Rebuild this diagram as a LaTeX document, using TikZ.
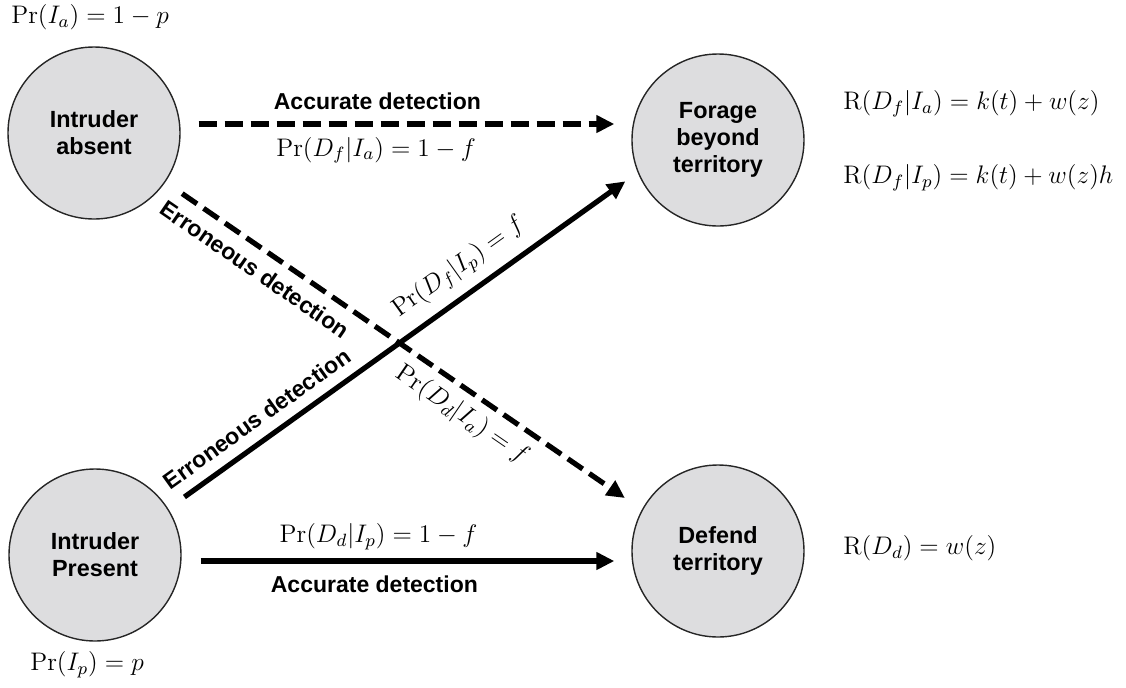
\RequirePackage{fix-cm}
\documentclass[tikz,border=0pt]{standalone}
\usepackage{fontspec}
\newfontfamily\labelfont{Liberation Sans}
\usetikzlibrary{arrows.meta,calc}
\definecolor{circfill}{RGB}{221,221,223}

\begin{document}
\begin{tikzpicture}[x=0.5pt,y=-0.5pt,
  state/.style={circle, draw=black!85, line width=0.7pt, fill=circfill,
    minimum size=86pt, inner sep=0pt, align=center,
    font=\fontsize{11.7}{13.5}\selectfont\labelfont\bfseries},
  flow/.style={line width=2.6pt, -{Triangle[length=9pt,width=8.5pt]}},
  dashflow/.style={flow, dash pattern=on 9pt off 4pt},
  kind/.style={inner sep=0pt, font=\fontsize{11.5}{13.5}\selectfont\labelfont\bfseries},
  prob/.style={inner sep=0pt, font=\fontsize{12.7}{15}\selectfont}
]
\useasboundingbox (0,0) rectangle (1126,687);

% states and outcomes
\node[state] (ia) at (94,133) {Intruder\\absent};
\node[state] (ip) at (95,555) {Intruder\\Present};
\node[state] (fo) at (718,140) {Forage\\beyond\\territory};
\node[state] (de) at (718,551) {Defend\\territory};

% prior probabilities
\node[prob, anchor=west] (pa) at (11,17) {$\Pr(I_a) = 1 - p$};
\node[prob, anchor=west] (pp) at (30,665) {$\Pr(I_p) = p$};

% payoffs
\node[prob, anchor=west] (r1) at (843,104) {$\mathrm{R}(D_f|I_a) = k(t) + w(z)$};
\node[prob, anchor=west] (r2) at (843,178) {$\mathrm{R}(D_f|I_p) = k(t) + w(z)h$};
\node[prob, anchor=west] (r3) at (843,548) {$\mathrm{R}(D_d) = w(z)$};

% accurate detections
\draw[dashflow] ($(ia.east)+(18,-9)$) -- ($(ia.east -| fo.west)+(-17,-9)$)
  node[kind, pos=0.43, above=6pt] {Accurate detection}
  node[prob, pos=0.427, below=5.2pt] {$\Pr(D_f|I_a) = 1 - f$};
\draw[flow] ($(ip.east)+(19,6)$) -- ($(ip.east -| de.west)+(-17,6)$)
  node[prob, pos=0.43, above=4.2pt] {$\Pr(D_d|I_p) = 1 - f$}
  node[kind, pos=0.42, below=6.3pt] {Accurate detection};

% erroneous detections
\draw[dashflow, shorten <=53.5pt, shorten >=56.5pt] (ia.center) -- ($(de.center)+(0,11)$)
  node[kind, sloped, pos=0.277, below=5pt] {Erroneous detection}
  node[prob, sloped, pos=0.612, below=4.3pt] {$\Pr(D_d|I_a) = f$};
\draw[flow, shorten <=55pt, shorten >=57pt] ($(ip.center)+(0,6)$) -- ($(fo.center)+(0,-25)$)
  node[kind, sloped, pos=0.28, above=5.3pt] {Erroneous detection}
  node[prob, sloped, pos=0.609, above=5.5pt] {$\Pr(D_f|I_p) = f$};
\end{tikzpicture}
\end{document}
